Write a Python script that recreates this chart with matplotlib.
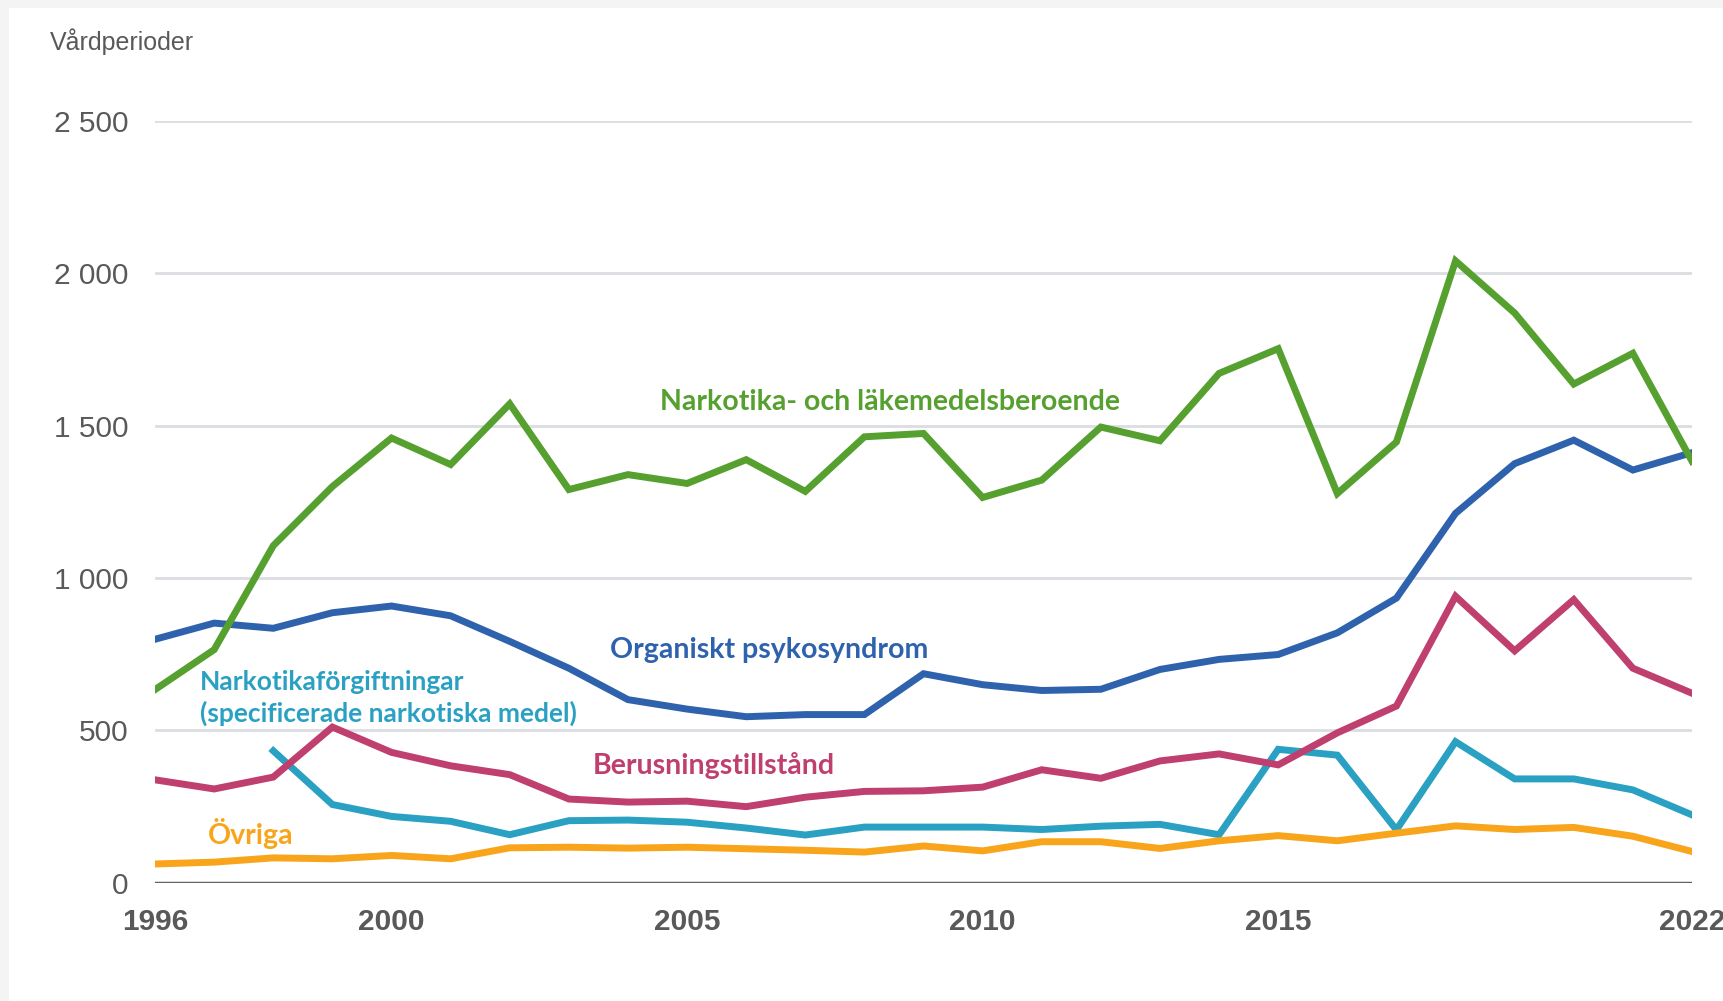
import matplotlib.pyplot as plt
import matplotlib.patches as mpatches
import numpy as np

years = list(range(1996, 2023))

# Vårdperioder per diagnosgrupp
beroende = [634, 765, 1106, 1300, 1459, 1372, 1571, 1290, 1339, 1310, 1388, 1284, 1463,
            1474, 1264, 1321, 1495, 1450, 1671, 1752, 1277, 1446, 2040, 1869, 1636, 1737, 1383]
organiskt = [799, 852, 835, 886, 908, 876, 792, 704, 601, 570, 545, 552, 552,
             686, 650, 631, 635, 700, 733, 749, 820, 934, 1212, 1375, 1452, 1354, 1411]
berusning = [338, 308, 347, 511, 428, 384, 355, 275, 265, 268, 250, 281, 300,
             302, 314, 371, 343, 400, 423, 387, 492, 580, 940, 761, 929, 704, 622]
forgiftning = [np.nan, np.nan, 433, 257, 218, 202, 158, 204, 206, 199, 180, 157, 183,
               183, 183, 175, 186, 192, 158, 438, 419, 174, 463, 341, 341, 305, 223]
ovriga = [62, 68, 82, 79, 90, 79, 115, 117, 114, 117, 112, 107, 101,
          121, 105, 135, 135, 113, 138, 155, 138, 163, 187, 175, 182, 153, 103]

series_names = ["Narkotika- och läkemedelsberoende", "Organiskt psykosyndrom",
                "Berusningstillstånd",
                "Narkotikaförgiftningar\n(specificerade narkotiska medel)", "Övriga"]
colors = ["#56a02f", "#2f62ad", "#bf3f6f", "#2aa1c3", "#f8a51c"]

xticks = [1996, 2000, 2005, 2010, 2015, 2022]
yticks = [0, 500, 1000, 1500, 2000, 2500]
ytick_labels = ["0", "500", "1 000", "1 500", "2 000", "2 500"]

fig = plt.figure(figsize=(17.23, 10.01), dpi=100, facecolor="#f4f4f4")
fig.patches.append(mpatches.Rectangle((0.005, 0.0), 0.995, 0.992, transform=fig.transFigure,
                                      facecolor="white", edgecolor="none", zorder=-1))
ax = fig.add_axes([0.090, 0.118, 0.892, 0.7615])
ax.set_facecolor("none")

lw = 5.0
ax.plot(years, forgiftning, color=colors[3], lw=lw, solid_joinstyle="miter", zorder=3)
ax.plot(years, ovriga, color=colors[4], lw=lw, solid_joinstyle="miter", zorder=4)
ax.plot(years, berusning, color=colors[2], lw=lw, solid_joinstyle="miter", zorder=3)
ax.plot(years, organiskt, color=colors[1], lw=lw, solid_joinstyle="miter", zorder=3)
ax.plot(years, beroende, color=colors[0], lw=lw, solid_joinstyle="miter", zorder=4)

ax.set_xlim(1996, 2022)
ax.set_ylim(0, 2500)
ax.set_yticks(yticks)
ax.set_yticklabels(ytick_labels)
ax.set_xticks(xticks)
for s in ax.spines.values():
    s.set_visible(False)
ax.grid(axis="y", color="#dadde1", lw=2, zorder=0)
ax.axhline(0, color="#636363", lw=2.5, zorder=5)
ax.tick_params(axis="both", length=0)
ax.tick_params(axis="y", pad=19, labelsize=21.5, labelcolor="#595959")
ax.tick_params(axis="x", pad=18, labelsize=21.5, labelcolor="#595959")
for lab in ax.get_yticklabels():
    lab.set_fontfamily("Liberation Sans")
for lab in ax.get_xticklabels():
    lab.set_fontfamily("Liberation Sans")
    lab.set_fontweight("bold")

fig.text(0.029, 0.958, "Vårdperioder", fontsize=18, color="#595959",
         family="Liberation Sans", va="center", ha="left")

lab_kw = dict(fontweight="bold", family="Lato")
ax.text(2008.43, 1578, series_names[0], color=colors[0], ha="center", va="center",
        fontsize=20.5, **lab_kw)
ax.text(2006.39, 764, series_names[1], color=colors[1], ha="center", va="center",
        fontsize=20.5, **lab_kw)
ax.text(2005.46, 385, series_names[2], color=colors[2], ha="center", va="center",
        fontsize=20.5, **lab_kw)
ax.text(1996.76, 607, series_names[3], color=colors[3], ha="left", va="center",
        fontsize=19, linespacing=1.3, **lab_kw)
ax.text(1997.62, 162, series_names[4], color=colors[4], ha="center", va="center",
        fontsize=20.5, **lab_kw)

fig.savefig("out.png", dpi=100, facecolor=fig.get_facecolor())
